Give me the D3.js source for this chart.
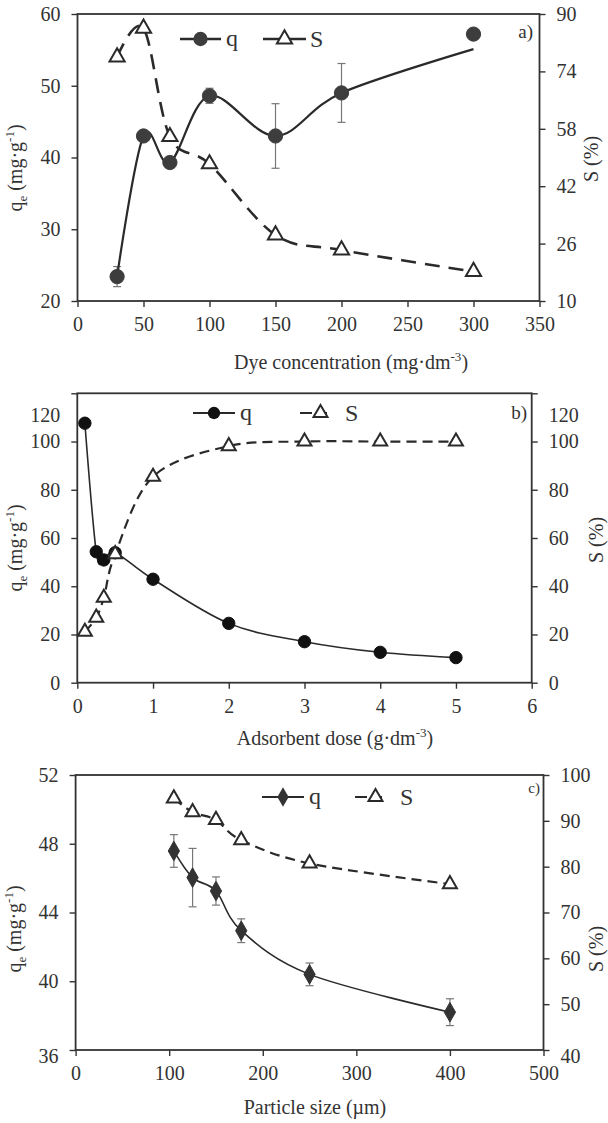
<!DOCTYPE html>
<html><head><meta charset="utf-8">
<script src="https://cdn.jsdelivr.net/npm/d3@7"></script>
<style>
body{margin:0;background:#fff}
svg{display:block}
</style>
</head><body>
<svg id="chart" width="608" height="1123"></svg>
<script>
// ---------- Panel a: dye concentration ----------
const concX = [30, 50, 70, 100, 150, 200, 300];
const concQ = [23.4, 43.0, 39.3, 48.6, 43.0, 49.0, 57.2];
const concQCurve = [23.4, 43.0, 39.3, 48.6, 43.0, 49.0, 55.1];
const concQErr = [1.4, 0, 0, 1.05, 4.5, 4.1, 0];
const concS = [78.0, 86.0, 55.8, 48.2, 28.4, 24.2, 18.2];
const concXTicks = [0, 50, 100, 150, 200, 250, 300, 350];
const concQTicks = [20, 30, 40, 50, 60];
const concSTicks = [10, 26, 42, 58, 74, 90];

// ---------- Panel b: adsorbent dose ----------
const doseX = [0.1, 0.25, 0.35, 0.5, 1, 2, 3, 4, 5];
const doseQ = [107.6, 54.3, 50.9, 53.9, 42.9, 24.6, 17.0, 12.6, 10.4];
const doseS = [21.1, 27.0, 35.2, 53.3, 85.4, 98.1, 100, 100, 100];
const doseXTicks = [0, 1, 2, 3, 4, 5, 6];
const doseQTicks = [0, 20, 40, 60, 80, 100, 120];
const doseSTicks = [0, 20, 40, 60, 80, 100, 120];

// ---------- Panel c: particle size ----------
const sizeX = [105, 125, 150, 177, 250, 400];
const sizeQ = [47.58, 46.03, 45.25, 42.94, 40.4, 38.2];
const sizeQErr = [0.95, 1.7, 0.82, 0.69, 0.66, 0.78];
const sizeS = [94.9, 91.9, 90.2, 85.8, 80.7, 76.2];
const sizeXTicks = [0, 100, 200, 300, 400, 500];
const sizeQTicks = [36, 40, 44, 48, 52];
const sizeSTicks = [40, 50, 60, 70, 80, 90, 100];

const FONT = '"Liberation Serif"';
const svg = d3.select("#chart");
const INK = "#2a2a2a";
const TXT = "#333";

function panel(o) {
  const g = svg.append("g");
  const x = d3.scaleLinear().domain(o.xDomain).range([o.left, o.right]);
  const yL = d3.scaleLinear().domain(o.qDomain).range([o.bottom, o.top]);
  const yR = d3.scaleLinear().domain(o.sDomain).range([o.bottom, o.top]);
  const curve = d3.curveCardinal.tension(0);

  const styleAxis = sel => {
    sel.attr("font-family", null).attr("font-size", null);
    sel.select(".domain").remove();
    sel.selectAll(".tick line").attr("stroke", "#333").attr("stroke-width", 1.4);
    sel.selectAll(".tick text").style("font-family", FONT).style("font-size", "20px").attr("fill", TXT);
  };
  g.append("g").attr("transform", `translate(0,${o.bottom})`)
    .call(d3.axisBottom(x).tickValues(o.xTicks).tickSize(6).tickPadding(10).tickFormat(d3.format("d")))
    .call(styleAxis);
  const gl = g.append("g").attr("transform", `translate(${o.left},0)`)
    .call(d3.axisLeft(yL).tickValues(o.qTicks).tickSize(6).tickPadding(11).tickFormat(d3.format("d")))
    .call(styleAxis);
  const gr = g.append("g").attr("transform", `translate(${o.right},0)`)
    .call(d3.axisRight(yR).tickValues(o.sTicks).tickSize(6).tickPadding(11).tickFormat(d3.format("d")))
    .call(styleAxis);
  if (o.labelShift) o.labelShift(gl, gr);

  g.append("rect").attr("x", o.left).attr("y", o.top)
    .attr("width", o.right - o.left).attr("height", o.bottom - o.top)
    .attr("fill", "none").attr("stroke", "#333").attr("stroke-width", 1.8);

  if (o.qErr) {
    const eb = g.append("g").attr("stroke", "#777").attr("stroke-width", 1.2);
    o.xs.forEach((xv, i) => {
      const e = o.qErr[i];
      if (!e) return;
      const px = x(xv), y1 = yL(o.qs[i] - e), y2 = yL(o.qs[i] + e);
      eb.append("line").attr("x1", px).attr("x2", px).attr("y1", y1).attr("y2", y2);
      eb.append("line").attr("x1", px - 4).attr("x2", px + 4).attr("y1", y1).attr("y2", y1);
      eb.append("line").attr("x1", px - 4).attr("x2", px + 4).attr("y1", y2).attr("y2", y2);
    });
  }

  const sLine = d3.line().x(d => x(d[0])).y(d => yR(d[1])).curve(curve);
  g.append("path").attr("d", sLine(o.xs.map((v, i) => [v, o.ss[i]])))
    .attr("fill", "none").attr("stroke", INK).attr("stroke-width", o.sWidth)
    .attr("stroke-dasharray", o.dash);

  const qc = o.qCurve || o.qs;
  const qLine = d3.line().x(d => x(d[0])).y(d => yL(d[1])).curve(curve);
  g.append("path").attr("d", qLine(o.xs.map((v, i) => [v, qc[i]])))
    .attr("fill", "none").attr("stroke", INK).attr("stroke-width", o.qWidth);

  const qSym = d3.symbol().type(o.qShape).size(o.qSize);
  g.append("g").selectAll("path").data(o.xs).join("path")
    .attr("transform", (d, i) => `translate(${x(d)},${yL(o.qs[i])})`)
    .attr("d", qSym).attr("fill", o.qFill).attr("stroke", o.qFill).attr("stroke-width", 1);

  const sSym = d3.symbol().type(d3.symbolTriangle).size(o.sSize);
  g.append("g").selectAll("path").data(o.xs).join("path")
    .attr("transform", (d, i) => `translate(${x(d)},${yR(o.ss[i])})`)
    .attr("d", sSym).attr("fill", "#fff").attr("stroke", INK).attr("stroke-width", 2);

  const T = (sel) => sel.style("font-family", FONT).attr("fill", TXT);

  const L = o.legend;
  g.append("line").attr("x1", L.q[0]).attr("x2", L.q[1]).attr("y1", L.y).attr("y2", L.y)
    .attr("stroke", INK).attr("stroke-width", o.qWidth + 0.4);
  g.append("path").attr("transform", `translate(${(L.q[0] + L.q[1]) / 2},${L.y})`)
    .attr("d", qSym).attr("fill", o.qFill);
  g.append("text").attr("x", L.q[1] + 5).attr("y", L.y + 7).call(T).style("font-size", "24px").text("q");
  g.append("line").attr("x1", L.s[0]).attr("x2", L.s[1]).attr("y1", L.y).attr("y2", L.y)
    .attr("stroke", INK).attr("stroke-width", o.sWidth).attr("stroke-dasharray", L.dash);
  g.append("path").attr("transform", `translate(${(L.s[0] + L.s[1]) / 2},${L.y})`)
    .attr("d", sSym).attr("fill", "#fff").attr("stroke", INK).attr("stroke-width", 2);
  g.append("text").attr("x", L.s[1] + 4).attr("y", L.y + 8).call(T).style("font-size", "24px").text("S");

  g.append("text").attr("x", o.tag[0]).attr("y", o.tag[1]).attr("text-anchor", "end")
    .call(T).style("font-size", o.tag[2] + "px").text(o.tag[3]);

  const xt = g.append("text").attr("x", o.xTitle[0]).attr("y", o.xTitle[1])
    .attr("text-anchor", "middle").call(T).style("font-size", "20px");
  xt.append("tspan").text(o.xTitle[2]);
  if (o.xTitle[3]) {
    xt.append("tspan").attr("dy", -8).style("font-size", "13px").text(o.xTitle[3]);
    xt.append("tspan").attr("dy", 8).text(")");
  }

  const lt = g.append("text").attr("transform", `translate(${o.lTitle[0]},${o.lTitle[1]}) rotate(-90)`)
    .attr("text-anchor", "middle").call(T).style("font-size", "20px");
  lt.append("tspan").text("q");
  lt.append("tspan").attr("dy", 5).style("font-size", "13px").text("e");
  lt.append("tspan").attr("dy", -5).text(" (mg·g");
  lt.append("tspan").attr("dy", -8).style("font-size", "13px").text("-1");
  lt.append("tspan").attr("dy", 8).text(")");

  g.append("text").attr("transform", `translate(${o.rTitle[0]},${o.rTitle[1]}) rotate(-90)`)
    .attr("text-anchor", "middle").call(T).style("font-size", "20px").text("S (%)");
}

panel({
  xs: concX, qs: concQ, qCurve: concQCurve, qErr: concQErr, ss: concS,
  xDomain: [0, 350], qDomain: [20, 60], sDomain: [10, 90],
  xTicks: concXTicks, qTicks: concQTicks, sTicks: concSTicks,
  left: 77.5, right: 539.5, top: 14, bottom: 301,
  qShape: d3.symbolCircle, qSize: 160, qFill: "#3d3d3d", qWidth: 2.2,
  sSize: 100, sWidth: 2.6, dash: "15,9",
  legend: {y: 39, q: [180, 221], s: [263, 306], dash: "17,0"},
  tag: [533, 38, 19, "a)"],
  xTitle: [351, 369, "Dye concentration (mg·dm", "-3"],
  lTitle: [22, 168], rTitle: [598, 159]
});

panel({
  xs: doseX, qs: doseQ, ss: doseS,
  xDomain: [0, 6], qDomain: [0, 120], sDomain: [0, 120],
  xTicks: doseXTicks, qTicks: doseQTicks, sTicks: doseSTicks,
  left: 77.3, right: 531.7, top: 393.3, bottom: 682.7,
  qShape: d3.symbolCircle, qSize: 120, qFill: "#111", qWidth: 1.6,
  sSize: 85, sWidth: 2.2, dash: "10,6",
  legend: {y: 413, q: [193, 235], s: [300, 341], dash: "12,5,10,30"},
  tag: [527, 419, 19, "b)"],
  xTitle: [335, 745, "Adsorbent dose (g·dm", "-3"],
  lTitle: [22, 548], rTitle: [603, 540],
  labelShift: (gl, gr) => {
    [gl, gr].forEach(a => a.selectAll(".tick").filter(d => d === 120)
      .select("text").attr("y", 22));
  }
});

panel({
  xs: sizeX, qs: sizeQ, qErr: sizeQErr, ss: sizeS,
  xDomain: [0, 500], qDomain: [36, 52], sDomain: [40, 100],
  xTicks: sizeXTicks, qTicks: sizeQTicks, sTicks: sizeSTicks,
  left: 75.6, right: 543.5, top: 775, bottom: 1050,
  qShape: d3.symbolDiamond, qSize: 110, qFill: "#333", qWidth: 1.6,
  sSize: 85, sWidth: 2.2, dash: "10,6",
  legend: {y: 797, q: [262, 304], s: [355, 396], dash: "12,5,10,30"},
  tag: [540, 793, 15, "c)"],
  xTitle: [315, 1114, "Particle size (µm)", null],
  lTitle: [21, 929], rTitle: [603, 949],
  labelShift: (gl, gr) => {
    gl.selectAll(".tick").filter(d => d === 36).select("text").attr("y", 6);
    gr.selectAll(".tick").filter(d => d === 40).select("text").attr("y", 6);
  }
});
</script>
</body></html>
